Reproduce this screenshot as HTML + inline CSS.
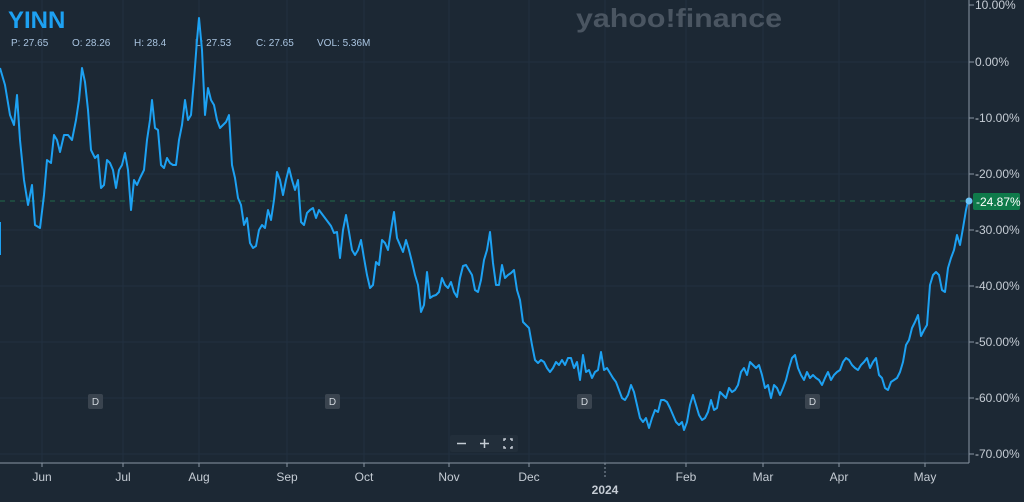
<!DOCTYPE html>
<html><head><style>
body{margin:0;background:#1c2834;width:1024px;height:497px;overflow:hidden;font-family:"Liberation Sans",sans-serif}
</style></head><body>
<svg width="1024" height="497" xmlns="http://www.w3.org/2000/svg" font-family="Liberation Sans, sans-serif">
<rect width="1024" height="497" fill="#1c2834"/>
<g stroke="#223040" stroke-width="1">
<line x1="42" y1="0" x2="42" y2="463"/><line x1="123" y1="0" x2="123" y2="463"/><line x1="199" y1="0" x2="199" y2="463"/><line x1="287" y1="0" x2="287" y2="463"/><line x1="364" y1="0" x2="364" y2="463"/><line x1="449" y1="0" x2="449" y2="463"/><line x1="529" y1="0" x2="529" y2="463"/><line x1="605" y1="0" x2="605" y2="463"/><line x1="686" y1="0" x2="686" y2="463"/><line x1="763" y1="0" x2="763" y2="463"/><line x1="839" y1="0" x2="839" y2="463"/><line x1="925" y1="0" x2="925" y2="463"/>
<line x1="0" y1="62" x2="969" y2="62"/><line x1="0" y1="118" x2="969" y2="118"/><line x1="0" y1="174" x2="969" y2="174"/><line x1="0" y1="230" x2="969" y2="230"/><line x1="0" y1="286" x2="969" y2="286"/><line x1="0" y1="342" x2="969" y2="342"/><line x1="0" y1="398" x2="969" y2="398"/><line x1="0" y1="454" x2="969" y2="454"/>
</g>
<line x1="969" y1="0" x2="969" y2="463" stroke="#8a96a3"/>
<line x1="0" y1="463" x2="969" y2="463" stroke="#8a96a3"/>
<g fill="#c5ccd4" font-size="12">
<text x="975" y="9">10.00%</text><text x="975" y="66">0.00%</text><text x="975" y="122">-10.00%</text><text x="975" y="178">-20.00%</text><text x="975" y="234">-30.00%</text><text x="975" y="290">-40.00%</text><text x="975" y="346">-50.00%</text><text x="975" y="402">-60.00%</text><text x="975" y="458">-70.00%</text>
</g>
<g stroke="#8a96a3"><line x1="969" y1="5" x2="974" y2="5"/><line x1="969" y1="62" x2="974" y2="62"/><line x1="969" y1="118" x2="974" y2="118"/><line x1="969" y1="174" x2="974" y2="174"/><line x1="969" y1="230" x2="974" y2="230"/><line x1="969" y1="286" x2="974" y2="286"/><line x1="969" y1="342" x2="974" y2="342"/><line x1="969" y1="398" x2="974" y2="398"/><line x1="969" y1="454" x2="974" y2="454"/></g>
<g fill="#c5ccd4" font-size="12" text-anchor="middle">
<text x="42" y="481">Jun</text><text x="123" y="481">Jul</text><text x="199" y="481">Aug</text><text x="287" y="481">Sep</text><text x="364" y="481">Oct</text><text x="449" y="481">Nov</text><text x="529" y="481">Dec</text><text x="686" y="481">Feb</text><text x="763" y="481">Mar</text><text x="839" y="481">Apr</text><text x="925" y="481">May</text>
<text x="605" y="494" font-weight="bold">2024</text>
</g>
<line x1="0" y1="201" x2="969" y2="201" stroke="#1f6a4a" stroke-dasharray="5,5"/>
<text x="576" y="27" font-size="26" font-weight="bold" fill="#4a5561" textLength="206" lengthAdjust="spacingAndGlyphs">yahoo!finance</text>
<text x="8" y="28" font-size="24" font-weight="bold" fill="#1da1f2">YINN</text>
<g font-size="10" fill="#a9c4e0"><text x="11" y="46">P: 27.65</text><text x="72" y="46">O: 28.26</text><text x="134" y="46">H: 28.4</text><text x="195" y="46">L: 27.53</text><text x="256" y="46">C: 27.65</text><text x="317" y="46">VOL: 5.36M</text></g>
<polyline fill="none" stroke="#1da1f2" stroke-width="2" stroke-linejoin="round" points="0,68 5,85 10,115 14,125 17,95 20,140 24,180 28,205 32,185 35,225 40,228 44,195 47,160 51,163 54,135 57,140 60,152 64,135 68,135 72,140 76,120 79,100 82,68 85,82 88,110 91,150 95,158 98,155 101,188 104,185 107,160 110,163 113,170 116,188 119,170 122,165 125,153 128,170 131,210 134,180 137,185 140,178 144,170 147,140 150,120 152,100 155,128 158,130 161,165 164,168 167,158 170,163 173,165 176,165 179,140 182,125 185,100 188,120 191,115 194,80 197,40 199,18 202,50 205,115 208,88 211,100 214,105 217,120 220,128 223,125 226,122 229,115 232,165 235,178 238,198 241,205 244,225 247,218 250,243 253,248 256,246 259,230 262,225 265,228 268,210 271,220 274,200 277,172 280,180 283,195 286,180 289,168 292,180 295,190 298,180 301,222 304,225 307,213 310,210 313,208 316,218 319,210 322,214 325,218 328,222 331,226 334,233 337,232 340,258 343,230 346,215 349,232 352,250 355,255 358,250 361,240 364,258 367,275 370,288 373,285 376,262 379,265 382,240 385,243 388,250 391,230 394,212 397,238 400,245 403,252 406,240 409,250 412,262 415,275 418,285 421,312 424,305 427,272 430,298 433,296 436,295 439,292 442,278 445,285 448,288 451,282 454,292 457,297 460,278 463,266 466,265 469,270 472,275 475,290 478,292 481,280 484,260 487,250 490,232 493,263 496,285 499,285 502,265 505,278 508,275 511,273 514,270 517,290 520,300 523,322 526,325 529,328 532,345 535,360 538,363 541,360 544,362 547,368 550,372 553,368 556,362 559,365 562,360 565,365 568,358 571,358 574,368 577,362 580,380 583,355 586,372 589,370 592,378 595,372 598,370 601,352 604,370 607,368 610,373 613,378 616,382 619,390 622,398 625,400 628,395 631,385 634,392 637,405 640,418 643,422 646,418 649,428 652,418 655,410 658,412 661,400 664,400 667,402 670,408 673,415 676,422 679,425 682,422 684,430 687,422 690,405 693,395 696,405 699,415 702,420 705,418 708,412 711,400 714,410 717,408 720,392 723,395 726,398 729,388 732,392 735,390 738,385 741,372 744,368 747,375 750,362 753,365 756,368 759,365 762,375 765,388 768,385 771,398 774,385 777,388 780,395 783,388 786,380 789,368 792,358 795,355 798,368 801,375 804,380 807,372 810,378 813,375 816,378 819,380 822,385 825,378 828,372 831,380 834,375 837,372 840,370 843,362 846,358 849,360 852,365 855,368 858,370 861,365 864,362 867,358 870,368 873,362 876,358 879,375 882,378 885,388 888,390 891,382 894,380 897,378 900,372 903,362 906,345 909,340 912,328 915,322 918,315 921,336 924,330 927,325 930,285 933,275 936,272 939,275 942,290 945,292 948,268 951,258 954,250 957,235 960,245 963,228 966,210 968,201"/>
<line x1="0" y1="222" x2="0" y2="255" stroke="#1da1f2" stroke-width="2"/>
<circle cx="969" cy="201" r="3.5" fill="#6cc4f5"/>
<rect x="973" y="193" width="47" height="17" rx="2" fill="#0f7a4a"/>
<text x="976" y="206" font-size="12" fill="#fff">-24.87%</text>
<g font-size="10" fill="#d0d6dc" text-anchor="middle">
<rect x="88" y="394" width="15" height="15" rx="2" fill="#3a444f"/><text x="95.5" y="405">D</text>
<rect x="325" y="394" width="15" height="15" rx="2" fill="#3a444f"/><text x="332.5" y="405">D</text>
<rect x="577" y="394" width="15" height="15" rx="2" fill="#3a444f"/><text x="584.5" y="405">D</text>
<rect x="805" y="394" width="15" height="15" rx="2" fill="#3a444f"/><text x="812.5" y="405">D</text>
</g>
<rect x="450" y="435" width="68" height="17" rx="2" fill="#222e3a"/>
<g stroke="#c5ccd4" stroke-width="1.5" fill="none"><line x1="457" y1="443.5" x2="466" y2="443.5"/><line x1="480" y1="443.5" x2="489" y2="443.5"/><line x1="484.5" y1="439" x2="484.5" y2="448"/>
<path d="M504 441v-2h2M510 439h2v2M512 446v2h-2M506 448h-2v-2"/></g>
<g stroke="#8a96a3"><line x1="42" y1="463" x2="42" y2="467"/><line x1="123" y1="463" x2="123" y2="467"/><line x1="199" y1="463" x2="199" y2="467"/><line x1="287" y1="463" x2="287" y2="467"/><line x1="364" y1="463" x2="364" y2="467"/><line x1="449" y1="463" x2="449" y2="467"/><line x1="529" y1="463" x2="529" y2="467"/><line x1="605" y1="463" x2="605" y2="479" stroke-dasharray="2,2"/><line x1="686" y1="463" x2="686" y2="467"/><line x1="763" y1="463" x2="763" y2="467"/><line x1="839" y1="463" x2="839" y2="467"/><line x1="925" y1="463" x2="925" y2="467"/></g>
</svg>
</body></html>
